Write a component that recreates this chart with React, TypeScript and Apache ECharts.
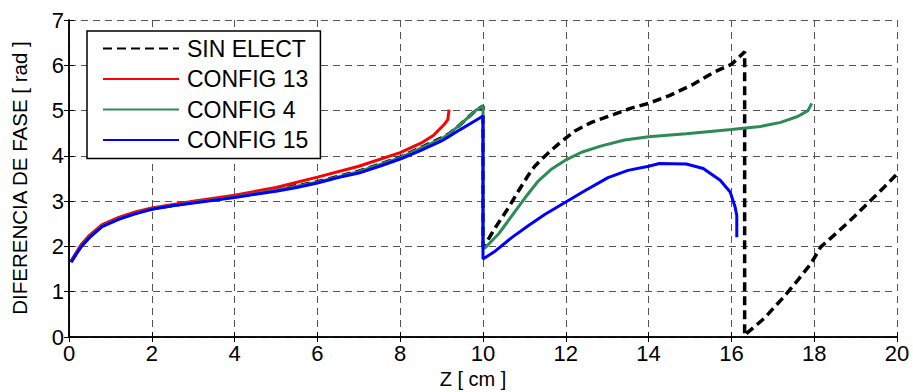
import React, { useEffect, useRef } from "react";
import * as echarts from "echarts";

const xTicks = [0, 2, 4, 6, 8, 10, 12, 14, 16, 18, 20];
const yTicks = [0, 1, 2, 3, 4, 5, 6, 7];
const seriesNames = ["SIN ELECT", "CONFIG 13", "CONFIG 4", "CONFIG 15"];

const sinElect: [number, number][] = [
  [0.05, 1.66], [0.3, 2.02], [0.5, 2.22], [0.8, 2.46], [1.2, 2.62], [1.6, 2.74], [2, 2.83],
  [3, 2.98], [4, 3.1], [5, 3.25], [6, 3.43], [7, 3.66], [8, 3.97], [8.5, 4.18], [9, 4.4],
  [9.2, 4.5], [9.45, 4.69], [9.82, 5.0], [10, 5.1], [10.0, 2.0], [10.06, 2.05], [10.3, 2.42],
  [10.62, 2.86], [10.86, 3.23], [11.1, 3.58], [11.25, 3.77], [11.42, 3.93], [11.62, 4.1],
  [11.82, 4.26], [12.22, 4.55], [12.62, 4.74], [13.18, 4.92], [13.6, 5.06], [14.0, 5.16],
  [14.5, 5.33], [15.08, 5.58], [15.56, 5.84], [16.0, 6.02], [16.3, 6.28], [16.32, 6.3],
  [16.32, 0.03], [16.38, 0.09], [16.79, 0.41], [17.27, 0.89], [17.6, 1.25], [17.92, 1.62],
  [18.16, 1.99], [18.57, 2.32], [18.97, 2.66], [19.38, 3.03], [19.7, 3.32], [20.0, 3.6],
];

const config13: [number, number][] = [
  [0.05, 1.68], [0.3, 2.05], [0.5, 2.25], [0.8, 2.48], [1.2, 2.64], [1.6, 2.76], [2, 2.85],
  [3, 3.0], [4, 3.13], [5, 3.3], [6, 3.53], [7, 3.77], [8, 4.07], [8.5, 4.28], [8.8, 4.45],
  [9.05, 4.68], [9.15, 4.8], [9.18, 5.02],
];

const config4: [number, number][] = [
  [0.05, 1.66], [0.3, 2.01], [0.5, 2.21], [0.8, 2.45], [1.2, 2.61], [1.6, 2.73], [2, 2.83],
  [3, 2.97], [4, 3.09], [5, 3.24], [6, 3.42], [7, 3.65], [8, 3.96], [8.5, 4.17], [9, 4.38],
  [9.2, 4.5], [9.45, 4.69], [9.82, 5.0], [10, 5.1], [10.0, 1.95], [10.06, 1.98], [10.38, 2.28],
  [10.7, 2.68], [11.02, 3.08], [11.34, 3.45], [11.66, 3.71], [11.98, 3.9], [12.38, 4.08],
  [12.86, 4.22], [13.42, 4.35], [14.0, 4.42], [14.91, 4.49], [16.0, 4.58], [16.7, 4.65],
  [17.19, 4.74], [17.6, 4.87], [17.85, 5.0], [17.94, 5.16],
];

const config15: [number, number][] = [
  [0.05, 1.65], [0.15, 1.8], [0.3, 2.0], [0.5, 2.2], [0.8, 2.44], [1.2, 2.6], [1.6, 2.72],
  [2, 2.82], [2.5, 2.9], [3, 2.96], [3.5, 3.02], [4, 3.08], [4.5, 3.15], [5, 3.22], [5.5, 3.3],
  [6, 3.4], [6.5, 3.52], [7, 3.62], [7.5, 3.77], [8, 3.93], [8.5, 4.12], [9, 4.33], [9.2, 4.44],
  [9.45, 4.58], [9.82, 4.78], [10, 4.88], [10.0, 1.72], [10.3, 1.9], [10.7, 2.2], [11.1, 2.46],
  [11.5, 2.71], [11.98, 2.97], [12.46, 3.23], [13.02, 3.52], [13.5, 3.68], [14.0, 3.77],
  [14.26, 3.83], [14.91, 3.82], [15.32, 3.72], [15.73, 3.46], [15.97, 3.2], [16.09, 2.87],
  [16.13, 2.68], [16.13, 2.2],
];

const FONT = "'Liberation Sans', Arial, sans-serif";

export default function App() {
  const ref = useRef<HTMLDivElement>(null);
  useEffect(() => {
    if (!ref.current) return;
    const chart = echarts.init(ref.current, null, { renderer: "svg" });
    const gridDash = { color: "#555", width: 1, type: [7, 5] as any };
    const axisCommon = {
      type: "value" as const,
      axisLine: { show: true, lineStyle: { color: "#000", width: 1.5 } },
      axisTick: { show: true, inside: true, length: 5, lineStyle: { color: "#000", width: 1 } },
    };
    chart.setOption({
      animation: false,
      backgroundColor: "#fff",
      grid: { left: 69, right: 16, top: 20, bottom: 55, outerBoundsMode: "none", containLabel: false },
      legend: {
        orient: "vertical",
        left: 87,
        top: 31,
        data: seriesNames,
        backgroundColor: "#fff",
        borderColor: "#000",
        borderWidth: 1.5,
        borderRadius: 0,
        padding: [6, 12, 7, 15],
        itemWidth: 76,
        itemHeight: 22,
        itemGap: 7.5,
        itemStyle: { opacity: 0 },
        textStyle: { fontFamily: FONT, fontSize: 23, color: "#000", padding: [0, 0, 0, 3] },
        selectedMode: false,
      },
      xAxis: [
        {
          ...axisCommon,
          position: "bottom",
          min: 0,
          max: 20,
          interval: 2,
          axisLabel: { fontFamily: FONT, fontSize: 22, color: "#000", margin: 5 },
          splitLine: { show: true, lineStyle: gridDash },
        },
        {
          ...axisCommon,
          position: "top",
          min: 0,
          max: 20,
          interval: 2,
          axisLabel: { show: false },
          splitLine: { show: false },
        },
      ],
      yAxis: [
        {
          ...axisCommon,
          position: "left",
          min: 0,
          max: 7,
          interval: 1,
          axisLabel: { fontFamily: FONT, fontSize: 22, color: "#000", margin: 5 },
          splitLine: { show: true, lineStyle: gridDash },
        },
        {
          ...axisCommon,
          position: "right",
          min: 0,
          max: 7,
          interval: 1,
          axisLabel: { show: false },
          splitLine: { show: false },
        },
      ],
      graphic: [
        {
          type: "text",
          x: 473,
          y: 379,
          style: { text: "Z [ cm ]", fontFamily: FONT, fontSize: 20, fill: "#000", align: "center", verticalAlign: "middle" },
        },
        {
          type: "text",
          x: 19,
          y: 178,
          rotation: Math.PI / 2,
          style: { text: "DIFERENCIA DE FASE [ rad ]", fontFamily: FONT, fontSize: 20.5, fill: "#000", align: "center", verticalAlign: "middle" },
        },
      ],
      series: [
        {
          name: seriesNames[0], type: "line", data: sinElect, showSymbol: false, symbol: "none",
          lineStyle: { color: "#000", width: 3.5, type: [9, 5] }, itemStyle: { color: "#000" },
        },
        {
          name: seriesNames[1], type: "line", data: config13, showSymbol: false, symbol: "none",
          lineStyle: { color: "#ff0000", width: 3 }, itemStyle: { color: "#ff0000" },
        },
        {
          name: seriesNames[2], type: "line", data: config4, showSymbol: false, symbol: "none",
          lineStyle: { color: "#2e8b57", width: 3 }, itemStyle: { color: "#2e8b57" },
        },
        {
          name: seriesNames[3], type: "line", data: config15, showSymbol: false, symbol: "none",
          lineStyle: { color: "#0000ff", width: 3 }, itemStyle: { color: "#0000ff" },
        },
      ],
    });
    return () => chart.dispose();
  }, []);
  return <div ref={ref} style={{ position: "fixed", left: 0, top: 0, width: 913, height: 392 }} />;
}
